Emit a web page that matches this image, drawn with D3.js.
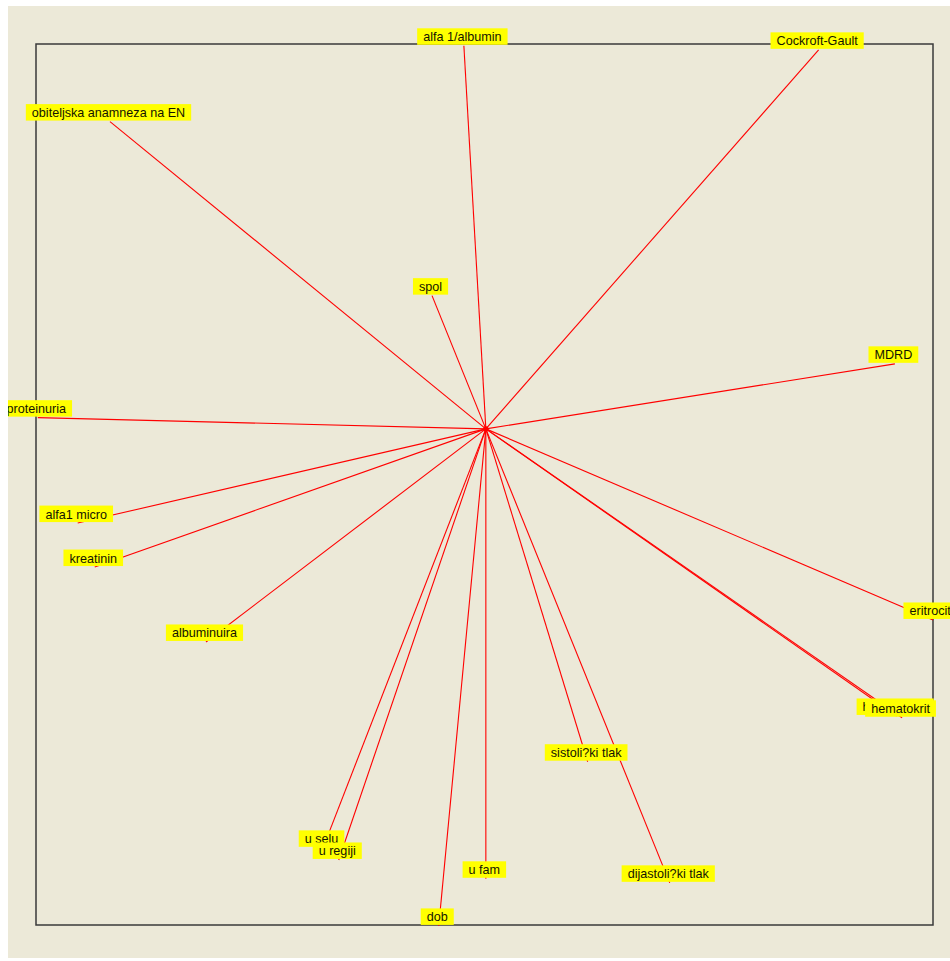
<!DOCTYPE html>
<html>
<head>
<meta charset="utf-8">
<script src="https://cdn.jsdelivr.net/npm/d3@7"></script>
<style>
  body { margin: 0; background: #fff; }
  text { font-family: "Liberation Sans", Arial, sans-serif; font-size: 12.6px; }
</style>
</head>
<body>
<div id="chart"></div>
<script>
// loading plot - variable vectors from the origin

var width = 950;
var height = 961;

var names = ['alfa 1/albumin', 'Cockroft-Gault', 'obiteljska anamneza na EN', 'spol', 'MDRD',
  'proteinuria', 'alfa1 micro', 'kreatinin', 'albuminuira', 'eritrociti', 'hemoglobin',
  'hematokrit', 'sistoli?ki tlak', 'dijastoli?ki tlak', 'u selu', 'u regiji', 'dob', 'u fam'];
var loadX = [-0.049, 0.742, -0.838, -0.120, 0.912, -0.999, -0.910, -0.872, -0.624, 0.997,
  0.916, 0.928, 0.227, 0.410, -0.363, -0.328, -0.105, 0.000];
var loadY = [0.854, 0.845, 0.685, 0.297, 0.145, 0.025, -0.210, -0.308, -0.475, -0.426,
  -0.640, -0.644, -0.742, -1.012, -0.934, -0.961, -1.108, -1.003];

var vectors = names.map(function (n, i) {
  return { name: n, x: loadX[i], y: loadY[i] };
});

var svg = d3.select('#chart').append('svg')
    .attr('width', width)
    .attr('height', height);

// panel
var panel = { x: 8, y: 6, w: 942, h: 952 };
svg.append('defs').append('clipPath').attr('id', 'panelclip')
  .append('rect')
    .attr('x', panel.x).attr('y', panel.y)
    .attr('width', panel.w).attr('height', panel.h);

svg.append('rect')
    .attr('x', panel.x).attr('y', panel.y)
    .attr('width', panel.w).attr('height', panel.h)
    .style('fill', '#ece9d8');

var g = svg.append('g').attr('clip-path', 'url(#panelclip)');

var xScale = d3.scaleLinear().domain([-1.003, 0.997]).range([36, 933]);
var yScale = d3.scaleLinear().domain([-1.106, 0.858]).range([925, 44]);

// frame
g.append('rect')
    .attr('x', xScale.range()[0]).attr('y', yScale.range()[1])
    .attr('width', xScale.range()[1] - xScale.range()[0])
    .attr('height', yScale.range()[0] - yScale.range()[1])
    .style('fill', 'none')
    .style('stroke', '#3a3a3a')
    .style('stroke-width', 1.5);

// vectors
g.selectAll('.vec')
    .data(vectors)
  .enter().append('line')
    .attr('class', 'vec')
    .attr('x1', xScale(0)).attr('y1', yScale(0))
    .attr('x2', function (d) { return xScale(d.x); })
    .attr('y2', function (d) { return yScale(d.y); })
    .style('stroke', '#ff0000')
    .style('stroke-width', 1.1);

// origin marker
var cx = xScale(0), cy = yScale(0);
g.append('path')
    .attr('d', 'M' + (cx - 3) + ',' + cy + 'H' + (cx + 3) + 'M' + cx + ',' + (cy - 3) + 'V' + (cy + 3) +
      'M' + (cx - 2) + ',' + (cy - 2) + 'L' + (cx + 2) + ',' + (cy + 2) +
      'M' + (cx - 2) + ',' + (cy + 2) + 'L' + (cx + 2) + ',' + (cy - 2))
    .style('stroke', '#ff0000')
    .style('stroke-width', 1.5);

// labels: yellow boxes centred just above the vector tip
var labels = g.selectAll('.lab')
    .data(vectors)
  .enter().append('g')
    .attr('class', 'lab');

labels.each(function (d) {
  var el = d3.select(this);
  var px = xScale(d.x) - 1.5;
  var py = yScale(d.y) - 1;
  var rect = el.append('rect');
  var txt = el.append('text')
      .attr('x', px)
      .attr('y', py - 3.5)
      .attr('text-anchor', 'middle')
      .style('fill', '#141400')
      .text(d.name);
  var w = txt.node().getComputedTextLength() + 12;
  rect.attr('x', px - w / 2)
      .attr('y', py - 16.5)
      .attr('width', w)
      .attr('height', 16.5)
      .style('fill', '#ffff00');
});
</script>
</body>
</html>
